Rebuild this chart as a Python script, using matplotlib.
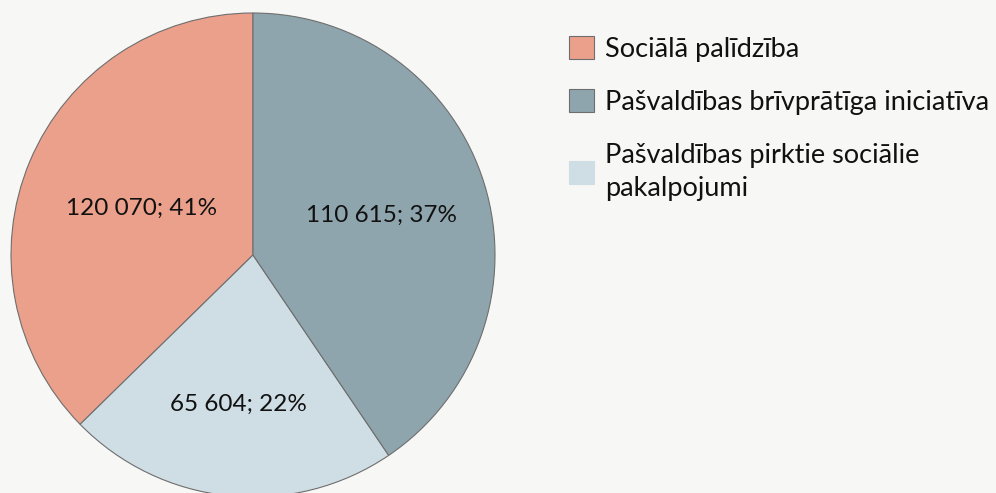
import matplotlib
matplotlib.use("Agg")
import matplotlib.pyplot as plt
import numpy as np

# categories in legend order
categories = ["Sociālā palīdzība",
              "Pašvaldības brīvprātīga iniciatīva",
              "Pašvaldības pirktie sociālie\npakalpojumi"]
# values as printed on the slices
label_values = [120070, 110615, 65604]
label_pct = [41, 37, 22]
# slice sizes as drawn in the source (salmon and dark slices look swapped vs labels)
slice_values = [110615, 120070, 65604]
colors = ["#eba08b", "#8fa5ae", "#cfdde4"]

plt.rcParams['font.family'] = ['Lato', 'DejaVu Sans']
bg = "#f7f7f5"

def fmt(v, p):
    return "{:,}".format(v).replace(",", " ") + "; {}%".format(p)

def main():
    fig = plt.figure(figsize=(9.96, 4.93), dpi=100, facecolor=bg)
    # pie axes: centre (253,255) px, radius 242 px
    ax = fig.add_axes([11/996, -4/493, 484/996, 484/493])
    ax.set_facecolor(bg)

    # counterclockwise from top: salmon, light, dark
    order = [0, 2, 1]
    wedges, _ = ax.pie([slice_values[i] for i in order],
                       colors=[colors[i] for i in order],
                       startangle=90, counterclock=True, radius=1,
                       wedgeprops=dict(edgecolor="#6e6e6e", linewidth=0.8))
    ax.set_xlim(-1, 1)
    ax.set_ylim(-1, 1)
    ax.axis('off')

    # data labels inside slices
    radii = [0.50, 0.62, 0.555]
    for w, i, r in zip(wedges, order, radii):
        mid = np.deg2rad((w.theta1 + w.theta2) / 2)
        ax.text(r*np.cos(mid), r*np.sin(mid), fmt(label_values[i], label_pct[i]),
                ha='center', va='center', fontsize=17.5, color="#111111")

    # legend in original order
    handles = [wedges[order.index(i)] for i in range(3)]
    leg = fig.legend(handles, categories, loc='upper left',
                     bbox_to_anchor=(569/996, 1 - 36/493), frameon=False,
                     fontsize=19.5, handlelength=0.93, handleheight=0.93,
                     handletextpad=0.4, labelspacing=1.02, borderpad=0,
                     borderaxespad=0)
    for t in leg.get_texts():
        t.set_color("#111111")
        t.set_linespacing(1.4)
    # light square has no visible border in the source
    leg.legend_handles[2].set_edgecolor(colors[2])

    fig.savefig("out.png", dpi=100, facecolor=bg)

if __name__ == "__main__":
    main()
